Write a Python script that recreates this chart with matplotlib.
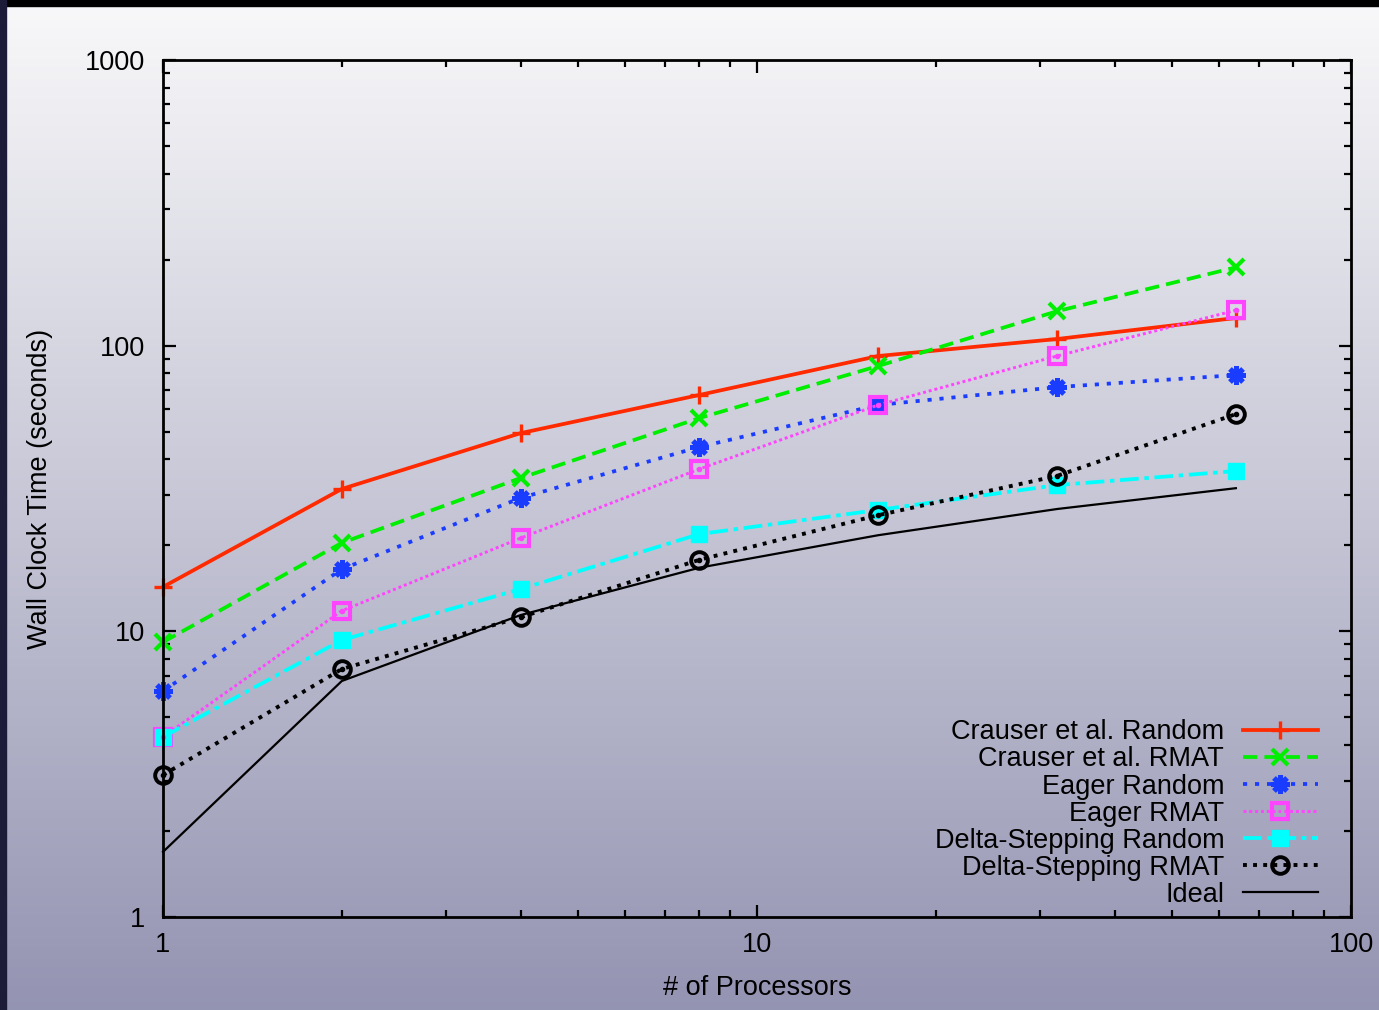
import numpy as np
import matplotlib
matplotlib.use("Agg")
import matplotlib.pyplot as plt
from matplotlib.patches import Rectangle

plt.rcParams['font.family'] = ['Liberation Sans', 'DejaVu Sans']

procs = [1, 2, 4, 8, 16, 32, 64]
crauser_random = [14.3, 31.5, 49.4, 67.2, 92.0, 105.5, 125.0]
crauser_rmat = [9.17, 20.4, 34.4, 55.8, 84.9, 132.0, 188.0]
eager_random = [6.18, 16.5, 29.3, 44.2, 62.0, 71.6, 78.9]
eager_rmat = [4.27, 11.8, 21.2, 37.0, 62.0, 92.0, 133.0]
delta_random = [4.27, 9.32, 14.06, 21.9, 26.6, 32.5, 36.4]
delta_rmat = [3.14, 7.38, 11.2, 17.8, 25.5, 35.0, 57.6]
ideal = [1.69, 6.7, 11.4, 16.7, 21.7, 26.8, 31.7]

fig = plt.figure(figsize=(13.79, 10.10), dpi=100)

# gradient background
bg = fig.add_axes([0, 0, 1, 1], zorder=-10)
grad = np.linspace(0, 1, 256).reshape(-1, 1)
top = np.array([0.975, 0.975, 0.98])
bot = np.array([0.58, 0.58, 0.70])
img = top[None, None, :] * (1 - grad[:, :, None]) + bot[None, None, :] * grad[:, :, None]
bg.imshow(img, aspect='auto', extent=[0, 1, 0, 1], origin='upper')
bg.add_patch(Rectangle((0, 0.9945), 1, 0.01, color='black'))
bg.add_patch(Rectangle((0, 0), 0.0045, 1, color='#1c1c38'))
bg.set_xlim(0, 1)
bg.set_ylim(0, 1)
bg.axis('off')

ax = fig.add_axes([0.1182, 0.0921, 0.8615, 0.8485])
ax.patch.set_alpha(0)

fs = 19.5
ax.plot(procs, crauser_random, color='#ff2a00', lw=2.7, marker='+', ms=13, mew=2.4,
        label='Crauser et al. Random', clip_on=False)
ax.plot(procs, crauser_rmat, color='#00ee00', lw=2.7, dashes=(3.8, 1.9), marker='x', ms=12, mew=3,
        label='Crauser et al. RMAT', clip_on=False)
ax.plot(procs, eager_random, color='#1a3cff', lw=2.7, dashes=(1.1, 2.1), marker=(8, 2, 0), ms=13,
        mew=3.6, mec='#1a3cff', label='Eager Random', clip_on=False)
ax.plot(procs, eager_rmat, color='#ff44ff', lw=2.1, dashes=(1, 1), marker='s', ms=12, mfc='none',
        mew=3, label='Eager RMAT', clip_on=False)
ax.plot(procs, delta_random, color='#00ffff', lw=2.7, dashes=(5, 1.5, 1.2, 1.5), marker='s', ms=12,
        label='Delta-Stepping Random', clip_on=False)
ax.plot(procs, delta_rmat, color='black', lw=2.8, dashes=(1, 1.6), marker='o', ms=12, mfc='none',
        mew=2.8, label='Delta-Stepping RMAT', clip_on=False)
ax.plot(procs, ideal, color='black', lw=1.6, label='Ideal', clip_on=False)
# centre dots for open markers
ax.plot(procs, eager_rmat, ls='none', marker='o', ms=3, color='#ff44ff', clip_on=False)
ax.plot(procs, delta_rmat, ls='none', marker='o', ms=3, color='black', clip_on=False)

ax.set_xscale('log')
ax.set_yscale('log')
ax.set_xlim(1, 100)
ax.set_ylim(1, 1000)
ax.set_xticks([1, 10, 100])
ax.set_xticklabels(['1', '10', '100'])
ax.set_yticks([1, 10, 100, 1000])
ax.set_yticklabels(['1', '10', '100', '1000'])
ax.tick_params(which='both', direction='in', top=True, right=True, width=1.6, labelsize=fs)
ax.tick_params(which='major', length=9)
ax.tick_params(which='minor', length=5)
ax.tick_params(axis='x', pad=11)
ax.tick_params(axis='y', pad=13)
for s in ax.spines.values():
    s.set_linewidth(2)

ax.set_xlabel('# of Processors', fontsize=fs, labelpad=12)
ax.set_ylabel('Wall Clock Time (seconds)', fontsize=fs, labelpad=23)

ax.legend(loc='lower right', bbox_to_anchor=(0.981, -0.002), frameon=False, markerfirst=False,
          fontsize=fs, handlelength=2.75, handletextpad=0.7, labelspacing=0.04, borderaxespad=0)

fig.savefig('out.png', dpi=100)
